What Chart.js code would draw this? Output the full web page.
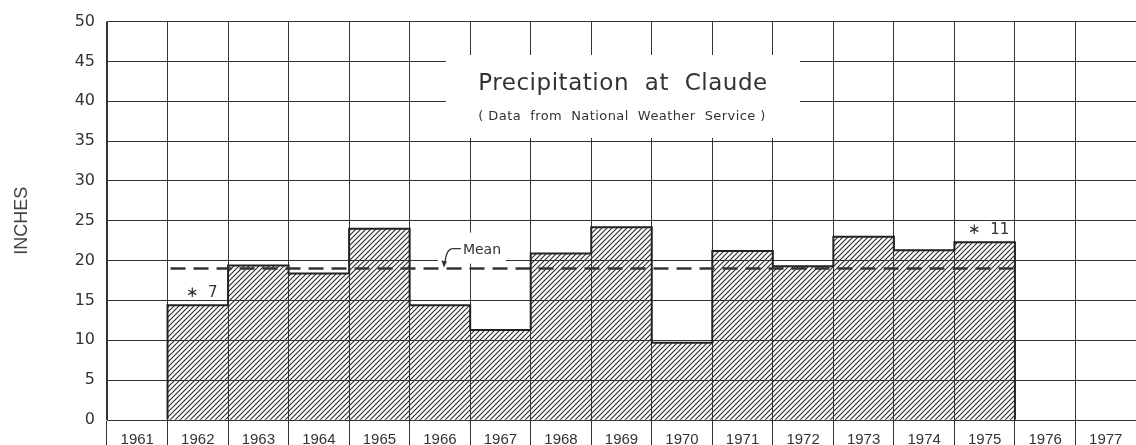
<!DOCTYPE html>
<html>
<head>
<meta charset="utf-8">
<script src="https://cdn.jsdelivr.net/npm/chart.js@4/dist/chart.umd.min.js"></script>
<style>
  html, body { margin: 0; padding: 0; background: #fff; }
</style>
</head>
<body>
<canvas id="myChart" width="1136" height="445"></canvas>
<script>
// data
var years = ["1961", "1962", "1963", "1964", "1965", "1966", "1967", "1968", "1969",
             "1970", "1971", "1972", "1973", "1974", "1975", "1976", "1977"];
var precipInches = [null, 14.4, 19.4, 18.4, 24.0, 14.4, 11.3, 20.9, 24.2,
                    9.7, 21.2, 19.3, 23.0, 21.3, 22.3, null, null];
var meanInches = 19.0;
var yTicks = [0, 5, 10, 15, 20, 25, 30, 35, 40, 45, 50];
var noteYears = ["1962", "1975"];
var noteTexts = ["\u2217  7", "\u2217  11"];
var chartTitle = "Precipitation  at  Claude";
var chartSubtitle = "( Data  from  National  Weather  Service )";
var axisTitle = "INCHES";

var ink = "#333";

// diagonal hatching for the bars
function makeHatch() {
  var c = document.createElement("canvas");
  c.width = 5; c.height = 5;
  var g = c.getContext("2d");
  g.strokeStyle = "#2a2a2a";
  g.lineWidth = 1.1;
  g.beginPath();
  g.moveTo(0, 5); g.lineTo(5, 0);
  g.moveTo(-1, 1); g.lineTo(1, -1);
  g.moveTo(4, 6); g.lineTo(6, 4);
  g.stroke();
  return g.createPattern(c, "repeat");
}

function spacedText(ctx, text, cx, y, target) {
  ctx.letterSpacing = "0px";
  var w = ctx.measureText(text).width;
  var extra = (target - w) / (text.length - 1);
  if (extra > 0) ctx.letterSpacing = extra + "px";
  ctx.fillText(text, cx, y);
  ctx.letterSpacing = "0px";
}

var overlay = {
  id: "overlay",
  afterDraw: function(chart) {
    var ctx = chart.ctx;
    var xs = chart.scales.x, ys = chart.scales.y;
    var bars = chart.getDatasetMeta(0).data;

    var steps = [];
    bars.forEach(function(b, i) {
      if (precipInches[i] == null) return;
      steps.push({ l: b.x - b.width / 2, r: b.x + b.width / 2, y: b.y, base: b.base, x: b.x, i: i });
    });

    ctx.save();

    // white box behind title
    ctx.fillStyle = "#fff";
    ctx.fillRect(446, 55, 354, 83);

    // gap in the grid for the "Mean" label
    var meanY = ys.getPixelForValue(meanInches);
    var ax = xs.getPixelForValue(5) + 4;
    ctx.fillRect(ax - 6, meanY - 36, 68, 31);

    // step outline of the bars
    ctx.strokeStyle = "#222";
    ctx.lineWidth = 2;
    ctx.lineJoin = "miter";
    ctx.beginPath();
    steps.forEach(function(s, k) {
      if (k === 0) { ctx.moveTo(s.l, s.base); ctx.lineTo(s.l, s.y); }
      else ctx.lineTo(s.l, s.y);
      ctx.lineTo(s.r, s.y);
      if (k === steps.length - 1) ctx.lineTo(s.r, s.base);
    });
    ctx.stroke();

    // mean line
    ctx.strokeStyle = ink;
    ctx.lineWidth = 2.5;
    ctx.setLineDash([15, 8]);
    ctx.beginPath();
    ctx.moveTo(steps[0].l + 3, meanY);
    ctx.lineTo(steps[steps.length - 1].r, meanY);
    ctx.stroke();
    ctx.setLineDash([]);

    // mean label with leader
    ctx.lineWidth = 1.3;
    ctx.beginPath();
    ctx.moveTo(ax + 17, meanY - 20);
    ctx.lineTo(ax + 9, meanY - 20);
    ctx.quadraticCurveTo(ax + 4, meanY - 20, ax + 2, meanY - 12);
    ctx.lineTo(ax + 1, meanY - 6);
    ctx.stroke();
    ctx.fillStyle = ink;
    ctx.beginPath();
    ctx.moveTo(ax, meanY - 1);
    ctx.lineTo(ax - 2.5, meanY - 8);
    ctx.lineTo(ax + 3, meanY - 7);
    ctx.closePath();
    ctx.fill();
    ctx.font = "14px 'DejaVu Sans'";
    ctx.textAlign = "left";
    ctx.textBaseline = "middle";
    ctx.fillText("Mean", ax + 19, meanY - 18);

    // footnote markers above bars
    ctx.textAlign = "center";
    ctx.font = "15px 'DejaVu Sans'";
    noteYears.forEach(function(yr, k) {
      var i = years.indexOf(yr);
      var b = bars[i];
      ctx.fillText(noteTexts[k], b.x + 4, b.y - 12);
    });

    // title block
    ctx.fillStyle = ink;
    ctx.textBaseline = "alphabetic";
    ctx.font = "23px 'DejaVu Sans'";
    spacedText(ctx, chartTitle, 623, 90, 289);
    ctx.font = "13px 'DejaVu Sans'";
    spacedText(ctx, chartSubtitle, 622, 120, 287);

    ctx.restore();
  }
};

new Chart("myChart", {
  type: "bar",
  data: {
    labels: years,
    datasets: [{
      data: precipInches,
      backgroundColor: makeHatch(),
      borderWidth: 0,
      barPercentage: 1,
      categoryPercentage: 1
    }]
  },
  options: {
    responsive: false,
    animation: false,
    devicePixelRatio: 1,
    layout: { padding: { top: 19, left: 0, right: 0, bottom: 0 } },
    plugins: { legend: { display: false }, tooltip: { enabled: false } },
    scales: {
      x: {
        afterFit: function(s) { s.height = 25; },
        ticks: { autoSkip: false, maxRotation: 0, padding: -15, color: ink,
                 font: { family: "Liberation Sans", size: 15 } },
        grid: {
          offset: true, tickLength: 26, lineWidth: 1, z: 1,
          color: function(c) { return c.tick ? ink : "rgba(0,0,0,0)"; }
        },
        border: { color: ink, z: 1 }
      },
      y: {
        min: 0, max: 50,
        afterFit: function(s) { s.width = 107; },
        afterBuildTicks: function(s) { s.ticks = yTicks.map(function(v) { return { value: v }; }); },
        ticks: { padding: 12, color: ink, font: { family: "DejaVu Sans", size: 16 } },
        grid: { color: ink, lineWidth: 1, drawTicks: false, z: 1 },
        border: { color: ink, z: 1 },
        title: { display: true, text: axisTitle, color: "#444",
                 font: { family: "Liberation Sans", size: 18 }, padding: { top: 11, bottom: 0 } }
      }
    }
  },
  plugins: [overlay]
});
</script>
</body>
</html>
